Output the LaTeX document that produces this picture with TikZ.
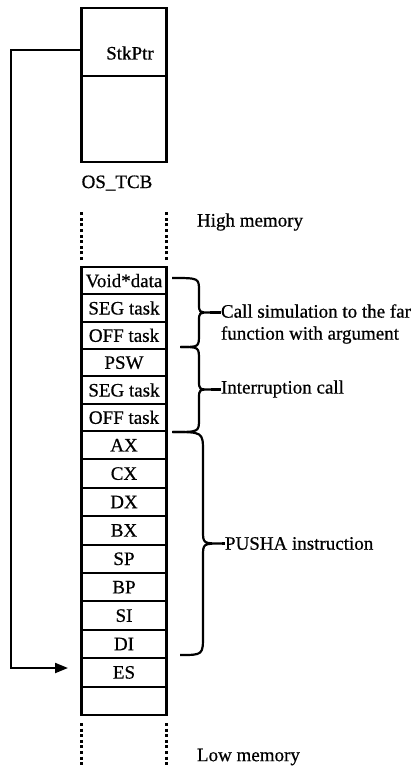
\documentclass[tikz,border=0pt]{standalone}
\usepackage{fontspec}
\setmainfont{Liberation Serif}[FakeBold=0.6]
\usetikzlibrary{arrows.meta}

% Curly brace: top end (#1,#2), bottom end (#3,#4), spine x #5, tip x #6, end radius #7, tip radius #8, label node #9
\newcommand\stackbrace[9]{%
  \pgfmathsetmacro\bym{(#2+#4)/2}%
  \draw[bracestyle] (#1,#2) .. controls (#5,#2) .. (#5,{#2+#7})
    -- (#5,{\bym-#8}) .. controls (#5,\bym) .. (#6,\bym)
    .. controls (#5,\bym) .. (#5,{\bym+#8})
    -- (#5,{#4-#7}) .. controls (#5,#4) .. (#3,#4);
  \coordinate (#9tip) at (#6,\bym);
  \draw[bracestyle] (#9tip) -- (#9tip -| #9.west);
}

\begin{document}
\begin{tikzpicture}[x=1pt,y=-1pt,
  every node/.style={font=\fontsize{19}{22}\selectfont, inner sep=0pt, outer sep=0pt},
  box/.style={draw, line width=2.1pt, minimum width=85pt},
  cellA/.style={box, minimum height=27.33pt},
  cellB/.style={box, minimum height=28.4pt},
  dotline/.style={line width=2.4pt, dash pattern=on 3pt off 2.6pt},
  bracestyle/.style={line width=2.2pt, line join=round},
  ptr/.style={line width=2.1pt, -{Triangle[length=13pt,width=10pt]}},
  lbl/.style={anchor=west, align=left}]

\useasboundingbox (0,0) rectangle (418,767);

% task control block
\node[box, minimum height=68pt] (tcbtop) at (124,42) {};
\node[box, minimum height=86pt] (tcbbot) at (124,119) {};
\node (stkptr) at (130,53) {StkPtr};
\node (tcbname) at (117,183) {OS\_TCB};

% stack frame
\node[cellA] (r1)  at (124,280.67) {Void*data};
\node[cellA] (r2)  at (124,308.00) {SEG task};
\node[cellA] (r3)  at (124,335.33) {OFF task};
\node[cellA] (r4)  at (124,362.67) {PSW};
\node[cellA] (r5)  at (124,390.00) {SEG task};
\node[cellA] (r6)  at (124,417.33) {OFF task};
\node[cellB] (r7)  at (124,445.2) {AX};
\node[cellB] (r8)  at (124,473.6) {CX};
\node[cellB] (r9)  at (124,502.0) {DX};
\node[cellB] (r10) at (124,530.4) {BX};
\node[cellB] (r11) at (124,558.8) {SP};
\node[cellB] (r12) at (124,587.2) {BP};
\node[cellB] (r13) at (124,615.6) {SI};
\node[cellB] (r14) at (124,644.0) {DI};
\node[cellB] (r15) at (124,672.4) {ES};
\node[cellB] (r16) at (124,700.8) {};

% continuation of memory above and below
\draw[dotline] ([yshift=7pt]r1.north west) -- ([yshift=55pt]r1.north west);
\draw[dotline] ([yshift=7pt]r1.north east) -- ([yshift=55pt]r1.north east);
\draw[dotline] ([yshift=-8pt]r16.south west) -- ([yshift=-52pt]r16.south west);
\draw[dotline] ([yshift=-8pt]r16.south east) -- ([yshift=-52pt]r16.south east);

\node[lbl] (high) at (197,222) {High memory};
\node[lbl] (low) at (197,757) {Low memory};

% group labels
\node[lbl] (callsim) at (221,324) {Call simulation to the far\\function with argument};
\node[lbl] (intcall) at (221,389) {Interruption call};
\node[lbl] (pusha) at (225,543.5) {PUSHA instruction};

\stackbrace{172}{278}{181}{347}{199}{210}{13}{9}{callsim}
\stackbrace{180}{347}{173}{432}{199}{211}{13}{9}{intcall}
\stackbrace{172}{432}{180}{655}{203}{222}{20}{13}{pusha}

% stack pointer
\coordinate (corner) at (11,668);
\coordinate (entry) at ([xshift=-13.5pt,yshift=4.4pt]r15.west);
\draw[ptr] ([yshift=-8pt]tcbtop.west) -| (corner) -- (entry);

\end{tikzpicture}
\end{document}
